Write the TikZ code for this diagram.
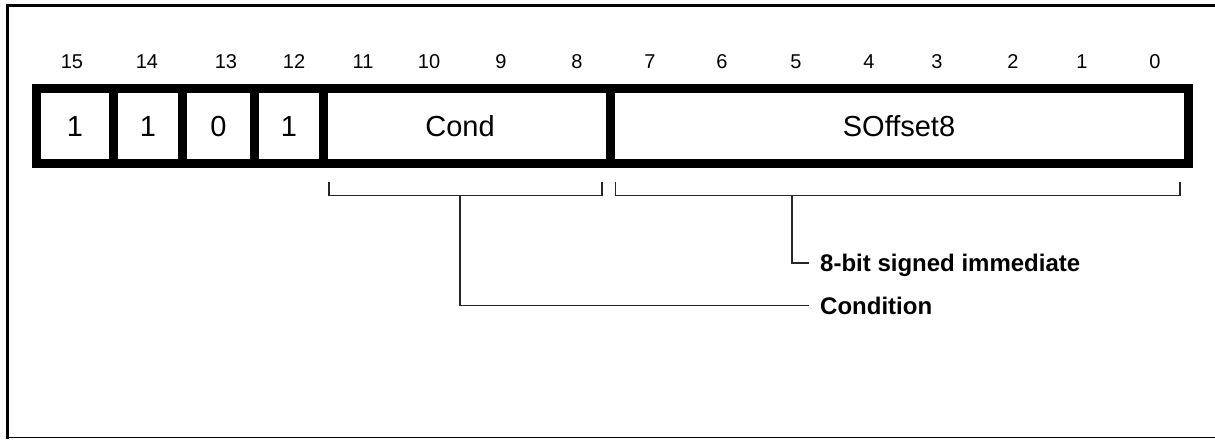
\documentclass[tikz,border=0pt]{standalone}
\usepackage{fontspec}
\setmainfont{Liberation Sans}
\begin{document}
\begin{tikzpicture}[x=1pt,y=-1pt,
  bitnum/.style={font=\fontsize{20}{20}\selectfont, inner sep=0, text height=14.3pt, text depth=0pt},
  cellval/.style={font=\fontsize{29}{29}\selectfont, inner sep=0, text height=20.8pt, text depth=0pt},
  lbl/.style={font=\bfseries\fontsize{24}{24}\selectfont, anchor=west, inner sep=0, text height=17.2pt, text depth=0pt},
  regline/.style={line width=9pt, draw=black},
  brk/.style={line width=1.3pt, draw=black!85},
]
\useasboundingbox (0,0) rectangle (1215,439);
% frame
\draw[line width=3pt] (7.7,439) -- (7.7,5.7) -- (1215,5.7);
\draw[line width=1.3pt] (7.7,437.8) -- (1215,437.8);
% bit numbers
\foreach \n/\x in {15/72,14/147,13/226,12/294,11/363,10/429,9/501,8/577,7/650,6/722,5/796,4/869,3/937,2/1013,1/1082,0/1155}
  \node[bitnum] (b\n) at (\x,61) {\n};
% register box
\draw[regline] (36.5,88.8) rectangle (1188.5,163.7);
\foreach \x in {113,182.5,254.5,323.5,610.5}
  \draw[regline] (\x,88.8) -- (\x,163.7);
% cell values
\node[cellval] (c15) at (75,126.3) {1};
\node[cellval] (c14) at (148,126.3) {1};
\node[cellval] (c13) at (218.5,126.3) {0};
\node[cellval] (c12) at (289,126.3) {1};
\node[cellval] (cond) at (460,126.3) {Cond};
\node[cellval] (soff) at (899,126.3) {SOffset8};
% brackets
\coordinate (cl) at (329,182);
\coordinate (cr) at (602,182);
\coordinate (sl) at (615.7,182);
\coordinate (sr) at (1180,182);
\coordinate (cm) at (460,195.7);
\coordinate (sm) at (792,195.7);
\draw[brk] (cl) -- ++(0,13.7) -| (cr);
\draw[brk] (sl) -- ++(0,13.7) -| (sr);
% labels
\node[lbl] (limm) at (820,263) {8-bit signed immediate};
\node[lbl] (lcond) at (820,305.5) {Condition};
\draw[brk] (sm) |- ([xshift=-11pt]limm.west);
\draw[brk] (cm) |- ([xshift=-11pt]lcond.west);
\end{tikzpicture}
\end{document}
